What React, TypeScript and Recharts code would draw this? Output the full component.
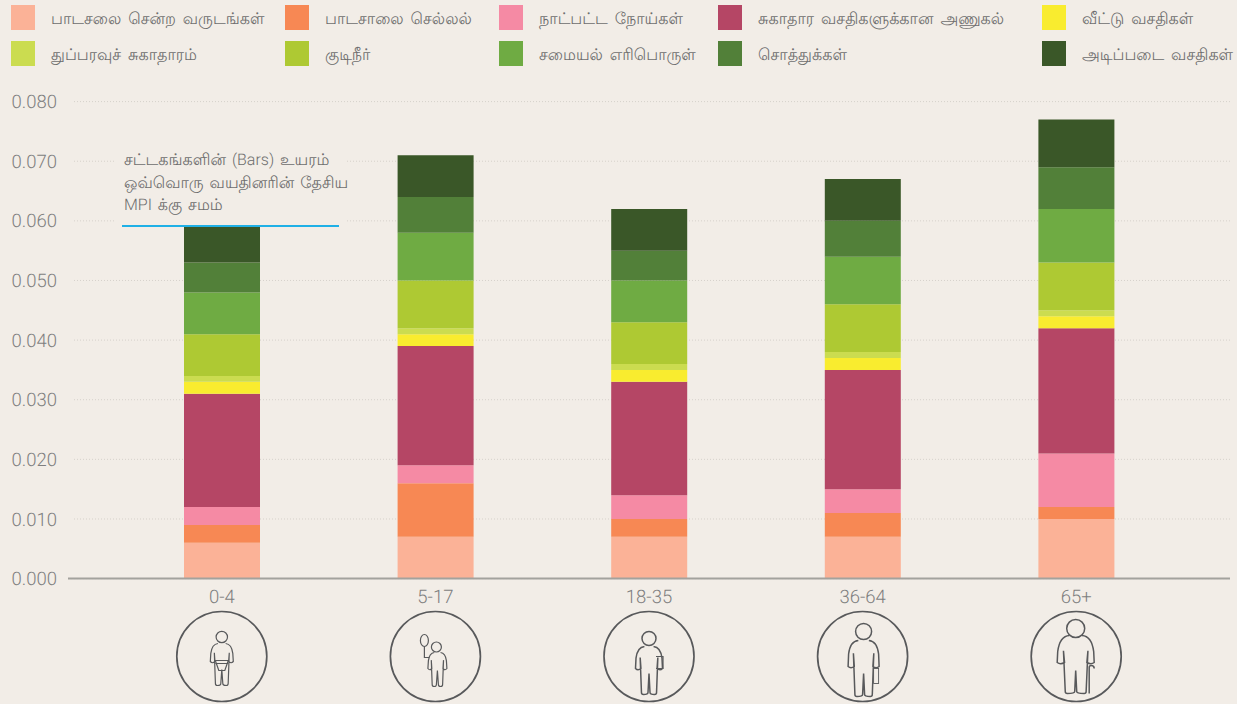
import { BarChart, Bar, XAxis, YAxis, CartesianGrid } from 'recharts';

const ageGroups = ['0-4', '5-17', '18-35', '36-64', '65+'];
const yTicks = [0, 0.01, 0.02, 0.03, 0.04, 0.05, 0.06, 0.07, 0.08];

const schoolYears = [0.006, 0.007, 0.007, 0.007, 0.01];
const schoolAttendance = [0.003, 0.009, 0.003, 0.004, 0.002];
const chronicIllness = [0.003, 0.003, 0.004, 0.004, 0.009];
const healthAccess = [0.019, 0.02, 0.019, 0.02, 0.021];
const housing = [0.002, 0.002, 0.002, 0.002, 0.002];
const sanitation = [0.001, 0.001, 0.001, 0.001, 0.001];
const drinkingWater = [0.007, 0.008, 0.007, 0.008, 0.008];
const cookingFuel = [0.007, 0.008, 0.007, 0.008, 0.009];
const assets = [0.005, 0.006, 0.005, 0.006, 0.007];
const basicServices = [0.0065, 0.007, 0.007, 0.007, 0.008];

const seriesList = [
  { key: 'schoolYears', label: 'பாடசலை சென்ற வருடங்கள்', color: '#fbb297', values: schoolYears },
  { key: 'schoolAttendance', label: 'பாடசாலை செல்லல்', color: '#f78854', values: schoolAttendance },
  { key: 'chronicIllness', label: 'நாட்பட்ட நோய்கள்', color: '#f58aa4', values: chronicIllness },
  { key: 'healthAccess', label: 'சுகாதார வசதிகளுக்கான அணுகல்', color: '#b54665', values: healthAccess },
  { key: 'housing', label: 'வீட்டு வசதிகள்', color: '#f9ec2f', values: housing },
  { key: 'sanitation', label: 'துப்பரவுச் சுகாதாரம்', color: '#cbdc50', values: sanitation },
  { key: 'drinkingWater', label: 'குடிநீர்', color: '#aec933', values: drinkingWater },
  { key: 'cookingFuel', label: 'சமையல் எரிபொருள்', color: '#6fab43', values: cookingFuel },
  { key: 'assets', label: 'சொத்துக்கள்', color: '#528039', values: assets },
  { key: 'basicServices', label: 'அடிப்படை வசதிகள்', color: '#3a5728', values: basicServices },
];

const tableData = ageGroups.map((age, i) => {
  const row: Record<string, string | number> = { age };
  seriesList.forEach((s) => {
    row[s.key] = s.values[i];
  });
  return row;
});

const noteLines = ['சட்டகங்களின் (Bars) உயரம்', 'ஒவ்வொரு வயதினரின் தேசிய', 'MPI க்கு சமம்'];

const BG = '#f2ede7';
const TEXT = '#6e6e6e';
const TICK = '#7f7f7f';
const ICON = '#58595b';
const FONT = 'Roboto, "Noto Sans", sans-serif';

const legendX = [11, 285, 499, 718, 1042];

// outline of a standing figure, all relative to the circle centre
function personPath(cx: number, top: number, w: number, hand: number, crotch: number, foot: number) {
  const pit = w * 0.68;
  const leg = w * 0.58;
  const armEnd = w * 0.62;
  return [
    `M${cx - w * 0.35},${top}`,
    `C${cx - w * 0.8},${top + 0.5} ${cx - w * 0.95},${top + w * 0.5} ${cx - w},${top + w * 0.9}`,
    `L${cx - w - 0.5},${hand - 1}`,
    `Q${cx - w * 0.85},${hand + 1.5} ${cx - armEnd},${hand - 1}`,
    `L${cx - pit},${top + w * 0.85}`,
    `L${cx - leg},${foot - 2}`,
    `Q${cx - leg},${foot} ${cx - leg + 2},${foot}`,
    `Q${cx - 1},${foot} ${cx - 1},${foot - 2}`,
    `L${cx},${crotch}`,
    `L${cx + 1},${foot - 2}`,
    `Q${cx + 1},${foot} ${cx + leg - 2},${foot}`,
    `Q${cx + leg},${foot} ${cx + leg},${foot - 2}`,
    `L${cx + pit},${top + w * 0.85}`,
    `L${cx + armEnd},${hand - 1}`,
    `Q${cx + w * 0.85},${hand + 1.5} ${cx + w + 0.5},${hand - 1}`,
    `L${cx + w},${top + w * 0.9}`,
    `C${cx + w * 0.95},${top + w * 0.5} ${cx + w * 0.8},${top + 0.5} ${cx + w * 0.35},${top}`,
  ].join(' ');
}

function AgeIcon({ age }: { age: string }) {
  const line = { fill: 'none', stroke: ICON, strokeWidth: 1.2 };
  if (age === '0-4') {
    return (
      <g>
        <circle cx={0} cy={-19.5} r={5.7} {...line} />
        <path d={personPath(0, -13, 11, 6, 13, 29)} {...line} />
        <path d="M-6.5,4 L6.5,4 L3,14 L-3,14 Z M-6.5,7 L6.5,7" {...line} />
      </g>
    );
  }
  if (age === '5-17') {
    return (
      <g>
        <circle cx={1} cy={-9.5} r={5} {...line} />
        <path d={personPath(2, -4, 9, 13, 14, 30)} {...line} />
        <ellipse cx={-11} cy={-16} rx={4} ry={6} {...line} />
        <path d="M-11,-10 L-11,1 L-6,1" {...line} />
      </g>
    );
  }
  if (age === '18-35') {
    return (
      <g>
        <circle cx={0} cy={-18} r={7} {...line} strokeWidth={1.5} />
        <path d={personPath(0, -10, 13, 13, 17, 38)} {...line} strokeWidth={1.5} />
        <path d="M7,0 L14,0 L14,12 L7,12" {...line} />
      </g>
    );
  }
  if (age === '36-64') {
    return (
      <g>
        <circle cx={1} cy={-25} r={8} {...line} strokeWidth={1.5} />
        <path d={personPath(1, -16, 15, 11, 17, 40)} {...line} strokeWidth={1.5} />
        <rect x={11} y={12} width={5} height={15} {...line} strokeWidth={0.9} />
      </g>
    );
  }
  return (
    <g>
      <circle cx={-0.5} cy={-28} r={9} {...line} strokeWidth={1.5} />
      <path d={personPath(-0.5, -21, 18, 7, 14, 37)} {...line} strokeWidth={1.5} />
      <path d="M13,37 L13,11 Q13,9 15,9 Q18,9 18,12" {...line} strokeWidth={1.5} />
    </g>
  );
}

function AgeTick({ x, payload }: any) {
  return (
    <g>
      <text x={x} y={603} textAnchor="middle" fontSize={18.5} fontWeight={300} fill={TICK} fontFamily={FONT}>
        {payload.value}
      </text>
      <g transform={`translate(${x},656.5)`}>
        <circle cx={0} cy={0} r={45} fill="none" stroke={ICON} strokeWidth={1.7} />
        <AgeIcon age={payload.value} />
      </g>
    </g>
  );
}

export default function App() {
  return (
    <div style={{ position: 'absolute', left: 0, top: 0, width: 1237, height: 704, background: BG, overflow: 'hidden', fontFamily: FONT, textRendering: 'geometricPrecision' }}>
      <BarChart
        width={1237}
        height={704}
        data={tableData}
        margin={{ top: 101.6, right: 7, bottom: 0, left: 0 }}
        barSize={76}
        style={{ position: 'absolute', left: 0, top: 0 }}
      >
        <CartesianGrid vertical={false} stroke="#d6d1cb" strokeDasharray="1 2" />
        <XAxis
          dataKey="age"
          height={125.4}
          padding={{ left: 47, right: 47 }}
          interval={0}
          axisLine={{ stroke: '#a3a29d', strokeWidth: 2 }}
          tickLine={false}
          tick={<AgeTick />}
        />
        <YAxis
          width={68}
          domain={[0, 0.08]}
          ticks={yTicks}
          interval={0}
          axisLine={false}
          tickLine={false}
          tickMargin={5}
          tickFormatter={(v: number) => v.toFixed(3)}
          tick={{ fill: TICK, fontSize: 18.5, fontWeight: 300, fontFamily: FONT }}
        />
        {seriesList.map((s) => (
          <Bar key={s.key} dataKey={s.key} stackId="mpi" fill={s.color} isAnimationActive={false} />
        ))}
      </BarChart>

      {/* gridlines start a little right of the axis line */}
      <div style={{ position: 'absolute', left: 66, top: 95, width: 7, height: 478, background: BG }} />

      {seriesList.map((s, i) => {
        const col = i % 5;
        const top = i < 5 ? 5 : 41;
        return (
          <div key={s.key}>
            <div style={{ position: 'absolute', left: legendX[col], top, width: 24, height: 25, background: s.color }} />
            <div style={{ position: 'absolute', left: legendX[col] + 40, top: top + 1, height: 25, lineHeight: '25px', fontSize: 16, fontWeight: 300, color: TEXT, whiteSpace: 'nowrap', wordSpacing: 3 }}>
              {s.label}
            </div>
          </div>
        );
      })}

      <div style={{ position: 'absolute', left: 116, top: 150, width: 230, height: 75, background: BG }} />
      {noteLines.map((t, i) => (
        <div key={t} style={{ position: 'absolute', left: 124, top: 149 + i * 22.5, height: 22, lineHeight: '22px', fontSize: 16, fontWeight: 300, color: TEXT, whiteSpace: 'nowrap', wordSpacing: 2 }}>
          {t}
        </div>
      ))}
      <div style={{ position: 'absolute', left: 122, top: 224.5, width: 217, height: 2, background: '#1fb0e6' }} />
    </div>
  );
}
